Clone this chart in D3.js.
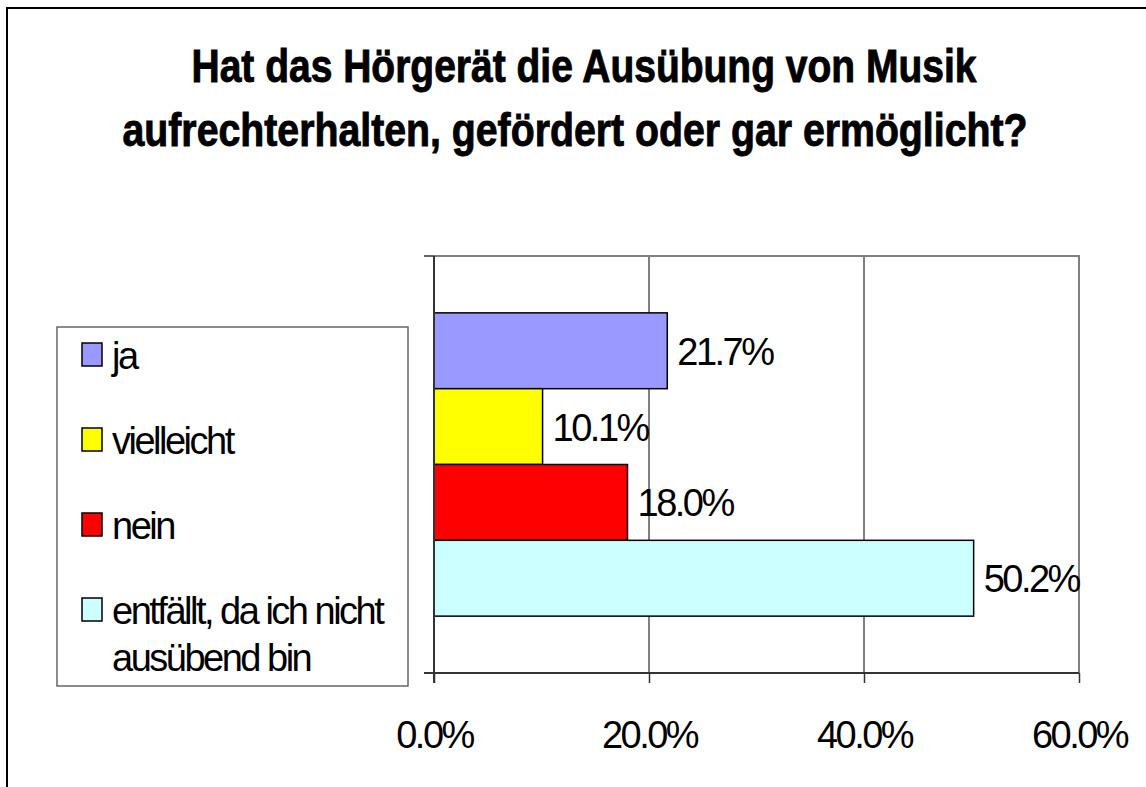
<!DOCTYPE html>
<html>
<head>
<meta charset="utf-8">
<script src="https://cdn.jsdelivr.net/npm/d3@7"></script>
<style>
  body { margin: 0; background: #fff; }
  text { font-family: "Liberation Sans", Arial, sans-serif; fill: #000; }
</style>
</head>
<body>
<script>
// chart data
var categories = ["ja", "vielleicht", "nein", "entfällt, da ich nicht ausübend bin"];
var values = [21.7, 10.1, 18.0, 50.2];
var colors = ["#9999ff", "#ffff00", "#ff0000", "#ccffff"];
var xTicks = [0, 20, 40, 60];
var titleLines = ["Hat das Hörgerät die Ausübung von Musik", "aufrechterhalten, gefördert oder gar ermöglicht?"];

var W = 1146, H = 787;
var svg = d3.select("body").append("svg").attr("width", W).attr("height", H);

// outer chart border (right/bottom run off the picture)
svg.append("rect").attr("x", 7).attr("y", 8).attr("width", 1160).attr("height", 800)
  .attr("fill", "#fff").attr("stroke", "#000").attr("stroke-width", 2);

// title - heavy, squeezed like the original
var titleW = [785, 905];
svg.selectAll("text.title").data(titleLines).enter().append("text")
  .attr("class", "title")
  .attr("x", (d, i) => i == 0 ? 584 : 575)
  .attr("y", (d, i) => 82 + i * 64)
  .attr("text-anchor", "middle")
  .attr("font-size", 46).attr("font-weight", "bold")
  .attr("stroke", "#000").attr("stroke-width", 0.9)
  .attr("textLength", (d, i) => titleW[i]).attr("lengthAdjust", "spacingAndGlyphs")
  .text(d => d);

// plot area
var pLeft = 434, pRight = 1079, pTop = 256, pBottom = 673;
var x = d3.scaleLinear().domain([0, 60]).range([pLeft, pRight]);
var y = d3.scaleBand().domain(d3.range(categories.length)).range([pTop, pBottom])
  .paddingInner(0).paddingOuter(0.75);

// gridlines
svg.selectAll("line.grid").data(xTicks.filter(t => t > 0 && t < 60)).enter().append("line")
  .attr("x1", d => x(d)).attr("x2", d => x(d)).attr("y1", pTop).attr("y2", pBottom)
  .attr("stroke", "#000").attr("stroke-width", 1);

// plot border top/right in gray
svg.append("path").attr("d", "M" + pLeft + "," + pTop + "H" + pRight + "V" + pBottom)
  .attr("fill", "none").attr("stroke", "#808080").attr("stroke-width", 2);

// bars
svg.selectAll("rect.bar").data(values).enter().append("rect")
  .attr("x", x(0)).attr("y", (d, i) => y(i))
  .attr("width", d => x(d) - x(0)).attr("height", y.bandwidth())
  .attr("fill", (d, i) => colors[i]).attr("stroke", "#000").attr("stroke-width", 1.5);

// value labels
svg.selectAll("text.val").data(values).enter().append("text")
  .attr("x", d => x(d) + 10).attr("y", (d, i) => y(i) + y.bandwidth() / 2 + 14)
  .attr("font-size", 38).attr("letter-spacing", -2.5)
  .text(d => d.toFixed(1) + "%");

// x axis
var xAxis = d3.axisBottom(x).tickValues(xTicks).tickSize(10).tickPadding(38)
  .tickFormat(d => d.toFixed(1) + "%");
var gx = svg.append("g").attr("transform", "translate(0," + pBottom + ")").call(xAxis);
gx.select(".domain").attr("stroke", "#333").attr("stroke-width", 2).attr("d", "M" + (pLeft - 10) + ",0H" + pRight);
gx.selectAll(".tick line").attr("stroke", "#333").attr("stroke-width", 1.5);
gx.selectAll(".tick text").attr("font-size", 38).attr("letter-spacing", -2.5)
  .attr("font-family", "Liberation Sans, Arial, sans-serif").attr("fill", "#000");

// y axis (single category, ticks at band edges)
svg.append("line").attr("x1", pLeft).attr("x2", pLeft).attr("y1", pTop).attr("y2", pBottom + 10)
  .attr("stroke", "#333").attr("stroke-width", 2);
svg.append("line").attr("x1", pLeft - 10).attr("x2", pLeft).attr("y1", pTop).attr("y2", pTop)
  .attr("stroke", "#333").attr("stroke-width", 1.5);

// legend
var lg = svg.append("g");
lg.append("rect").attr("x", 57).attr("y", 327).attr("width", 351).attr("height", 359)
  .attr("fill", "#fff").attr("stroke", "#666").attr("stroke-width", 1.5);
var legendLines = [["ja"], ["vielleicht"], ["nein"], ["entfällt, da ich nicht", "ausübend bin"]];
var item = lg.selectAll("g.item").data(categories).enter().append("g")
  .attr("transform", (d, i) => "translate(82," + (343 + i * 85) + ")");
item.append("rect").attr("width", 20).attr("height", 23)
  .attr("fill", (d, i) => colors[i]).attr("stroke", "#000").attr("stroke-width", 1.5);
item.each(function(d, i) {
  d3.select(this).selectAll("text").data(legendLines[i]).enter().append("text")
    .attr("x", 30).attr("y", (t, j) => 26 + j * 47)
    .attr("font-size", 38).attr("letter-spacing", -2.5)
    .text(t => t);
});
</script>
</body>
</html>
